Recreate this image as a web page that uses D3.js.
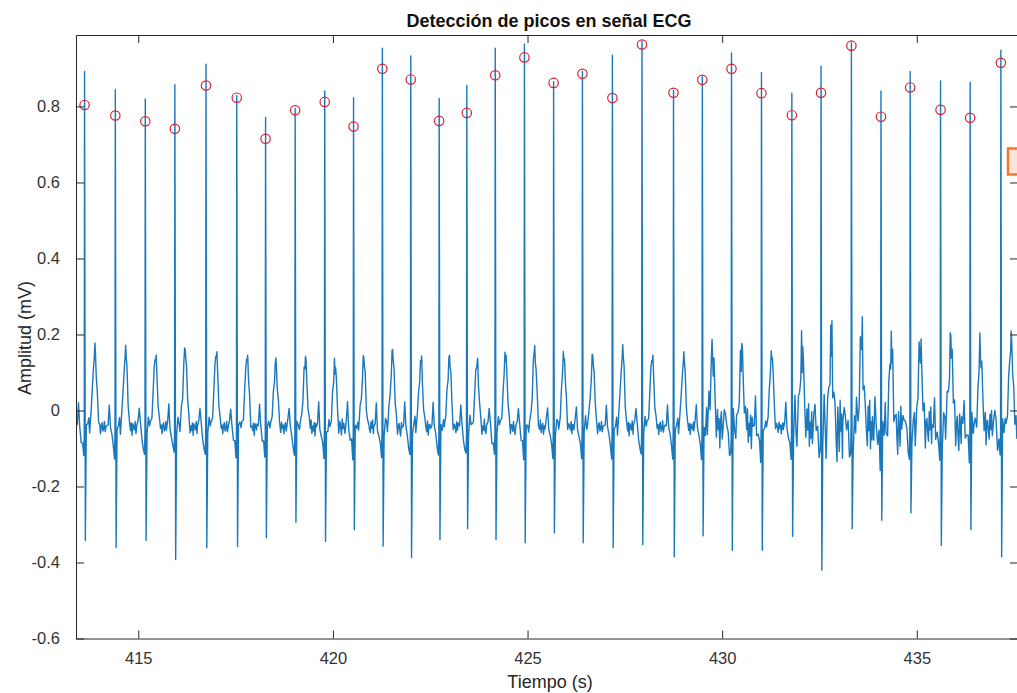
<!DOCTYPE html>
<html>
<head>
<meta charset="utf-8">
<script src="https://cdn.jsdelivr.net/npm/d3@7"></script>
<style>
  body { margin: 0; background: #fff; }
  svg text { font-family: "Liberation Sans", Arial, Helvetica, sans-serif; }
</style>
</head>
<body>
<div id="chart"></div>
<script>
// R peak times (s)
var rTimes = [413.62, 414.41, 415.18, 415.94, 416.74, 417.53, 418.27, 419.03, 419.79, 420.53,
    421.27, 422.00, 422.73, 423.44, 424.17, 424.92, 425.67, 426.41, 427.18, 427.94,
    428.75, 429.49, 430.24, 431.01, 431.79, 432.54, 433.32, 434.08, 434.83, 435.61,
    436.37, 437.16];
// top of each R spike (mV)
var rPeak = [0.892, 0.844, 0.820, 0.857, 0.911, 0.828, 0.771, 0.795, 0.841, 0.823,
    0.953, 0.933, 0.821, 0.855, 0.953, 0.964, 0.865, 0.892, 0.935, 0.972,
    0.842, 0.878, 0.941, 0.889, 0.835, 0.906, 0.968, 0.841, 0.892, 0.867,
    0.864, 0.948];
// bottom of each S spike (mV)
var sTrough = [-0.342, -0.361, -0.342, -0.392, -0.361, -0.358, -0.335, -0.294, -0.344, -0.314,
    -0.357, -0.387, -0.340, -0.311, -0.340, -0.348, -0.322, -0.348, -0.361, -0.353,
    -0.385, -0.330, -0.368, -0.368, -0.331, -0.420, -0.311, -0.289, -0.269, -0.355,
    -0.314, -0.385];
// T wave peak (mV)
var tPeak = [0.167, 0.158, 0.149, 0.165, 0.158, 0.145, 0.129, 0.136, 0.119, 0.139,
    0.158, 0.134, 0.139, 0.130, 0.149, 0.162, 0.145, 0.145, 0.158, 0.147,
    0.142, 0.165, 0.160, 0.149, 0.162, 0.170, 0.200, 0.160, 0.167, 0.190,
    0.162, 0.195];
// noise level after each beat (mV)
var noiseAmp = [0.018, 0.02, 0.018, 0.02, 0.018, 0.02, 0.018, 0.022, 0.028, 0.022,
    0.022, 0.022, 0.022, 0.022, 0.02, 0.022, 0.02, 0.018, 0.022, 0.02,
    0.018, 0.06, 0.055, 0.018, 0.07, 0.09, 0.08, 0.07, 0.06, 0.06,
    0.05, 0.035];
// detected peaks (red circles)
var picosT = rTimes;
var picosV = [0.804, 0.776, 0.761, 0.741, 0.855, 0.823, 0.715, 0.790, 0.812, 0.747,
    0.899, 0.871, 0.762, 0.783, 0.882, 0.929, 0.862, 0.886, 0.822, 0.963,
    0.836, 0.870, 0.899, 0.835, 0.777, 0.836, 0.960, 0.773, 0.850, 0.791,
    0.770, 0.915];

var baseLevel = -0.045;
var preKnots = [[-0.22, -0.045], [-0.185, -0.03], [-0.155, 0.012], [-0.125, -0.04],
    [-0.085, -0.075], [-0.05, -0.09], [-0.02, -0.12], [-0.008, -0.06]];
var postKnots = [[0.045, -0.05], [0.08, -0.03], [0.11, -0.035]];
// T wave: [seconds from R, fraction of T height]
var tKnots = [[0.13, 0], [0.17, 0.2], [0.20, 0.45], [0.23, 0.78], [0.25, 0.96], [0.265, 1.0],
    [0.28, 0.93], [0.30, 0.7], [0.33, 0.35], [0.36, 0.08], [0.39, 0]];
// baseline wiggle, shape read from the noisy stretches
var jitter = [0.3, -0.5, 0.8, -0.2, -0.9, 0.4, 0.1, -0.6, 0.7, -0.3, 0.9, -0.8, 0.2, 0.5, -0.4,
    -1.0, 0.6, 0.0, -0.7, 0.8, -0.1, 0.4, -0.9, 0.3, 0.7, -0.5, -0.2, 0.9, -0.6, 0.1,
    0.5, -0.8, 0.2, -0.3, 1.0, -0.4, -0.7, 0.6, 0.0, -0.5, 0.8, -0.9, 0.3, 0.4, -0.2,
    -0.6, 0.7, -0.1, 0.9, -0.7, 0.2, -0.4, 0.6, -1.0, 0.5, 0.1, -0.3, 0.8, -0.8, 0.4];

var xTicks = [415, 420, 425, 430, 435];
var yTicks = [-0.6, -0.4, -0.2, 0, 0.2, 0.4, 0.6, 0.8];
var yTickLabels = ["-0.6", "-0.4", "-0.2", "0", "0.2", "0.4", "0.6", "0.8"];

// build the trace from the tables above
var ecg = [];
var jk = 0;
function jit(a) { var v = jitter[jk % jitter.length] * a; jk++; return v; }

ecg.push([413.30, baseLevel]);
for (var i = 0; i < rTimes.length; i++) {
    var t0 = rTimes[i];
    var aPre = i > 0 ? noiseAmp[i - 1] : noiseAmp[0];
    var aPost = noiseAmp[i];
    preKnots.forEach(function(k) { ecg.push([t0 + k[0], k[1] + jit(aPre * 0.6)]); });
    ecg.push([t0, rPeak[i]]);
    ecg.push([t0 + 0.02, sTrough[i]]);
    postKnots.forEach(function(k) { ecg.push([t0 + k[0], k[1] + jit(aPost)]); });
    tKnots.forEach(function(k) {
        ecg.push([t0 + k[0], baseLevel + k[1] * (tPeak[i] - baseLevel) + jit(aPost)]);
    });
    var tEnd = i < rTimes.length - 1 ? rTimes[i + 1] - 0.23 : 437.75;
    for (var t = t0 + 0.41; t < tEnd; t += 0.02) {
        ecg.push([t, baseLevel + jit(aPost)]);
    }
}

var width = 1017, height = 693;
var x0 = 76, x1 = 1018, yTop = 35, yBot = 638.5;

var svg = d3.select("#chart").append("svg")
    .attr("width", width)
    .attr("height", height);

var x = d3.scaleLinear().domain([413.4, 437.6]).range([x0, x1]);
var y = d3.scaleLinear().domain([-0.6, 0.988]).range([yBot, yTop]);

svg.append("clipPath").attr("id", "clip")
    .append("rect")
    .attr("x", x0).attr("y", yTop)
    .attr("width", x1 - x0).attr("height", yBot - yTop);

var line = d3.line()
    .x(function(d) { return x(d[0]); })
    .y(function(d) { return y(d[1]); });

svg.append("path")
    .datum(ecg)
    .attr("clip-path", "url(#clip)")
    .attr("fill", "none")
    .attr("stroke", "#1a78bd")
    .attr("stroke-width", 1.4)
    .attr("stroke-linejoin", "round")
    .attr("d", line);

svg.selectAll("circle.pico")
    .data(picosT)
    .enter()
    .append("circle")
    .attr("class", "pico")
    .attr("cx", function(d) { return x(d); })
    .attr("cy", function(d, i) { return y(picosV[i]); })
    .attr("r", 4.7)
    .attr("fill", "none")
    .attr("stroke", "#d8202e")
    .attr("stroke-width", 1.2);

// box and ticks, MATLAB style (ticks inward on all four sides)
var axCol = "#262626";
var tickLen = 8;

svg.append("g")
    .attr("transform", "translate(0," + yBot + ")")
    .call(d3.axisBottom(x).tickValues(xTicks).tickSizeInner(-tickLen).tickSizeOuter(0).tickPadding(14).tickFormat(d3.format("d")))
    .call(function(g) {
        g.select(".domain").attr("stroke", axCol);
        g.selectAll(".tick line").attr("stroke", axCol);
        g.selectAll("text").attr("fill", "#333").style("font-size", "16.5px");
    });

svg.append("g")
    .attr("transform", "translate(0," + yTop + ")")
    .call(d3.axisTop(x).tickValues(xTicks).tickSizeInner(-tickLen).tickSizeOuter(0).tickFormat(""))
    .call(function(g) {
        g.select(".domain").attr("stroke", axCol);
        g.selectAll(".tick line").attr("stroke", axCol);
    });

svg.append("g")
    .attr("transform", "translate(" + x0 + ",0)")
    .call(d3.axisLeft(y).tickValues(yTicks).tickSizeInner(-tickLen).tickSizeOuter(0).tickPadding(16)
        .tickFormat(function(d, i) { return yTickLabels[i]; }))
    .call(function(g) {
        g.select(".domain").attr("stroke", axCol);
        g.selectAll(".tick line").attr("stroke", axCol);
        g.selectAll("text").attr("fill", "#333").style("font-size", "16.5px");
    });

svg.append("g")
    .attr("transform", "translate(" + x1 + ",0)")
    .call(d3.axisRight(y).tickValues(yTicks).tickSizeInner(-tickLen).tickSizeOuter(0).tickFormat(""))
    .call(function(g) {
        g.select(".domain").attr("stroke", axCol);
        g.selectAll(".tick line").attr("stroke", axCol);
    });

// cut-off annotation box at right edge
svg.append("rect")
    .attr("x", 1008).attr("y", 148.5)
    .attr("width", 30).attr("height", 26)
    .attr("fill", "#fbe6d9")
    .attr("stroke", "#ef7a2c")
    .attr("stroke-width", 2.5);

svg.append("text")
    .attr("x", 549)
    .attr("y", 27)
    .attr("text-anchor", "middle")
    .attr("fill", "#111")
    .style("font-size", "18px")
    .style("font-weight", "bold")
    .text("Detección de picos en señal ECG");

svg.append("text")
    .attr("x", 550)
    .attr("y", 688)
    .attr("text-anchor", "middle")
    .attr("fill", "#262626")
    .style("font-size", "18px")
    .text("Tiempo (s)");

svg.append("text")
    .attr("transform", "translate(31,338) rotate(-90)")
    .attr("text-anchor", "middle")
    .attr("fill", "#262626")
    .style("font-size", "18px")
    .text("Amplitud (mV)");
</script>
</body>
</html>
